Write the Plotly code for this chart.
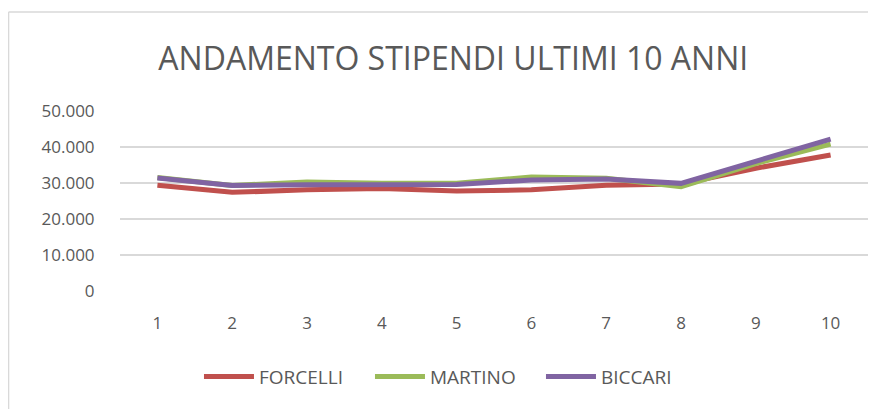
import plotly.graph_objects as go

anni = ["1", "2", "3", "4", "5", "6", "7", "8", "9", "10"]
forcelli = [29400, 27400, 28100, 28500, 27800, 28100, 29400, 29700, 34100, 37800]
martino = [31500, 29300, 30300, 29900, 29900, 31700, 31300, 29000, 35400, 40800]
biccari = [31400, 29300, 29500, 29600, 29600, 30800, 31100, 29900, 36100, 42200]

grigio = "#595959"
font = "Open Sans"

fig = go.Figure()
for nome, valori, colore in [
    ("FORCELLI", forcelli, "#C0504D"),
    ("MARTINO", martino, "#9BBB59"),
    ("BICCARI", biccari, "#8064A2"),
]:
    fig.add_trace(
        go.Scatter(
            x=anni,
            y=valori,
            mode="lines",
            name=nome,
            line=dict(color=colore, width=5),
        )
    )

# bordo del grafico (angolo in alto a sinistra)
# la pagina ha 8px di margine sul body, quindi la figura parte da (8, 8)
fig.add_shape(type="line", xref="paper", yref="paper",
              x0=-0.149, x1=1.02, y0=1.55, y1=1.55,
              line=dict(color="#D9D9D9", width=1.5))
fig.add_shape(type="line", xref="paper", yref="paper",
              x0=-0.149, x1=-0.149, y0=1.55, y1=-0.7,
              line=dict(color="#D9D9D9", width=1.5))

fig.update_layout(
    width=868,
    height=401,
    margin=dict(l=112, r=8, t=103, b=118),
    paper_bgcolor="white",
    plot_bgcolor="white",
    separators=",.",
    title=dict(
        text="ANDAMENTO STIPENDI ULTIMI 10 ANNI",
        x=0.513,
        xanchor="center",
        y=0.873,
        yanchor="middle",
        font=dict(family=font, size=32, color=grigio),
    ),
    xaxis=dict(
        type="category",
        range=[-0.5, 9.5],
        showgrid=False,
        showline=False,
        zeroline=False,
        ticks="",
        ticklabelstandoff=20,
        tickfont=dict(family=font, size=17, color=grigio),
    ),
    yaxis=dict(
        range=[0, 50000],
        tickvals=[0, 10000, 20000, 30000, 40000, 50000],
        tickformat=",d",
        showgrid=True,
        gridcolor="#D9D9D9",
        gridwidth=1.5,
        zeroline=False,
        showline=False,
        ticks="outside",
        ticklen=21,
        tickcolor="rgba(0,0,0,0)",
        tickfont=dict(family=font, size=17, color=grigio),
    ),
    legend=dict(
        orientation="h",
        x=0.4485,
        xanchor="center",
        y=-0.37,
        yanchor="top",
        font=dict(family=font, size=19, color=grigio),
        itemwidth=50,
        entrywidth=106,
        entrywidthmode="pixels",
    ),
)

fig.write_html("out.html")
